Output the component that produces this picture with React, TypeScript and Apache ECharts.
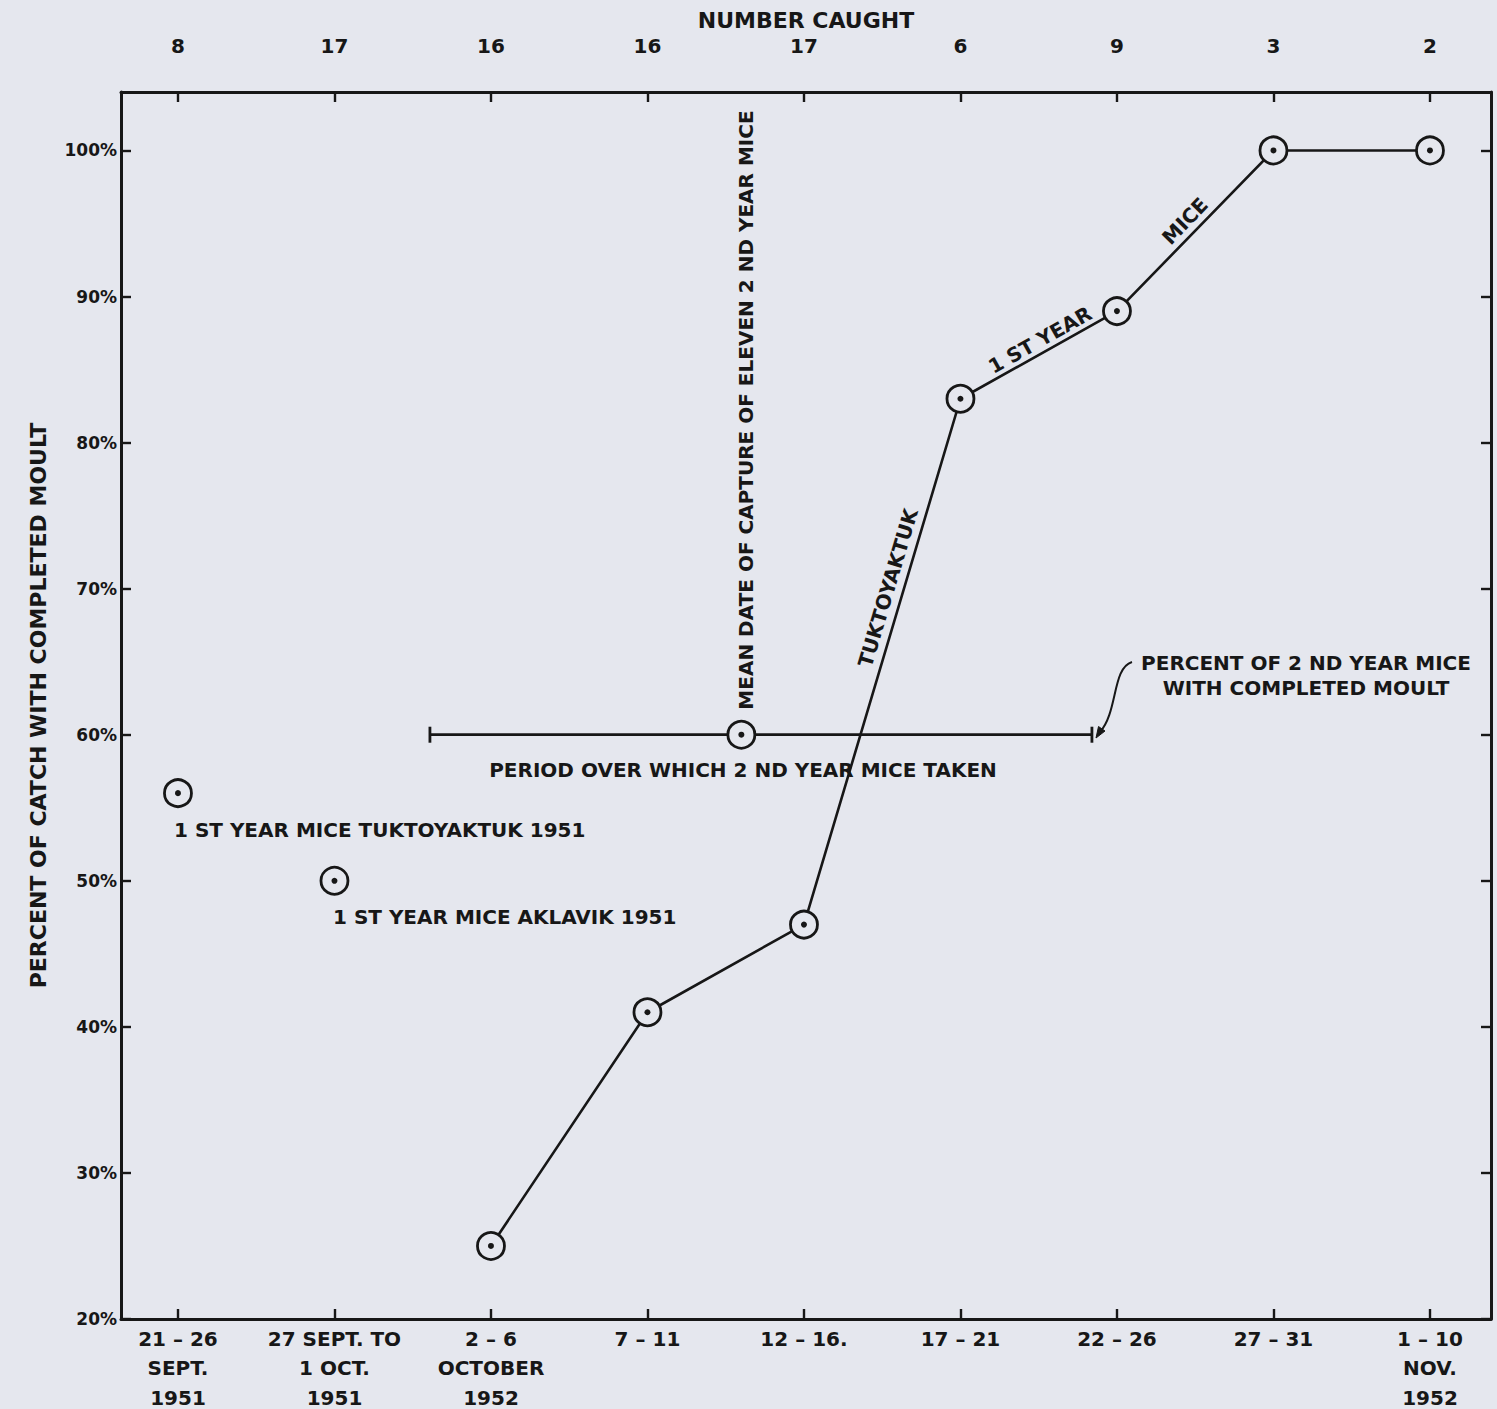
import React, { useEffect, useRef } from "react";
import * as echarts from "echarts";

// ---------- data ----------
const weekLabels = [
  "21 – 26\nSEPT.\n1951",
  "27 SEPT. TO\n1 OCT.\n1951",
  "2 – 6\nOCTOBER\n1952",
  "7 – 11",
  "12 – 16.",
  "17 – 21",
  "22 – 26",
  "27 – 31",
  "1 – 10\nNOV.\n1952",
];
const numberCaught = [8, 17, 16, 16, 17, 6, 9, 3, 2];
// 1st year mice Tuktoyaktuk 1952 (percent with completed moult)
const pctTuk1952: (number | null)[] = [null, null, 25, 41, 47, 83, 89, 100, 100];
// 1951 samples
const pctTuk1951 = 56; // index 0
const pctAklavik1951 = 50; // index 1
// 2nd year mice
const secondYearPct = 60;
const meanDateIndex = 3.6;
const periodStart = 1.61;
const periodEnd = 5.84;
const yTicks = [20, 30, 40, 50, 60, 70, 80, 90, 100];
const xTicks = [0, 1, 2, 3, 4, 5, 6, 7, 8];

const INK = "#171717";
const BG = "#e5e7ee";
const FONT = "DejaVu Sans";

export default function App() {
  const ref = useRef<HTMLDivElement>(null);
  useEffect(() => {
    if (!ref.current) return;
    const chart = echarts.init(ref.current, null, { renderer: "svg" });

    const tukData = pctTuk1952
      .map((v, i) => (v == null ? null : [i, v]))
      .filter((d) => d != null);
    const data1951 = [
      [0, pctTuk1951],
      [1, pctAklavik1951],
    ];
    const meanData = [[meanDateIndex, secondYearPct]];
    const periodData = [
      [periodStart, secondYearPct],
      [periodEnd, secondYearPct],
    ];
    const dotData = [...tukData, ...data1951, ...meanData];

    const ringStyle = {
      color: BG,
      borderColor: INK,
      borderWidth: 2.8,
      opacity: 1,
    };

    const xCommon = {
      type: "value",
      min: -0.364,
      max: 8.39,
      splitLine: { show: false },
      axisLine: { show: true, onZero: false, lineStyle: { color: INK, width: 3 } },
      axisTick: {
        show: true,
        inside: true,
        length: 10,
        customValues: xTicks,
        lineStyle: { color: INK, width: 2.4 },
      },
    };
    const yCommon = {
      type: "value",
      min: 20,
      max: 104,
      splitLine: { show: false },
      axisLine: { show: true, onZero: false, lineStyle: { color: INK, width: 3 } },
      axisTick: {
        show: true,
        inside: true,
        length: 10,
        customValues: yTicks,
        lineStyle: { color: INK, width: 2.4 },
      },
    };

    const txt = (text: string, x: number, y: number, opts: any = {}) => ({
      type: "text",
      x,
      y,
      rotation: opts.rotation || 0,
      z: 10,
      style: {
        text,
        fill: INK,
        fontSize: opts.fontSize || 20,
        fontWeight: "bold",
        fontFamily: FONT,
        align: opts.align || "center",
        verticalAlign: "middle",
        lineHeight: opts.lineHeight || 25,
      },
    });

    chart.setOption({
      animation: false,
      backgroundColor: BG,
      textStyle: { fontFamily: FONT, color: INK },
      grid: {
        left: 121,
        top: 92,
        right: 6,
        bottom: 90,
        containLabel: false,
        outerBoundsMode: "none",
      },
      xAxis: [
        {
          ...xCommon,
          position: "bottom",
          axisLabel: {
            customValues: xTicks,
            color: INK,
            fontFamily: FONT,
            fontWeight: "bold",
            fontSize: 20,
            lineHeight: 29.5,
            margin: 5,
            formatter: (v: number) => weekLabels[Math.round(v)],
          },
        },
        {
          ...xCommon,
          position: "top",
          name: "NUMBER CAUGHT",
          nameLocation: "middle",
          nameGap: 56,
          nameTextStyle: {
            color: INK,
            fontFamily: FONT,
            fontWeight: "bold",
            fontSize: 22,
          },
          axisLabel: {
            customValues: xTicks,
            color: INK,
            fontFamily: FONT,
            fontWeight: "bold",
            fontSize: 20,
            margin: 36,
            formatter: (v: number) => String(numberCaught[Math.round(v)]),
          },
        },
      ],
      yAxis: [
        {
          ...yCommon,
          position: "left",
          name: "PERCENT OF CATCH WITH COMPLETED MOULT",
          nameLocation: "middle",
          nameGap: 72,
          nameRotate: 90,
          nameTextStyle: {
            color: INK,
            fontFamily: FONT,
            fontWeight: "bold",
            fontSize: 22,
          },
          axisLabel: {
            customValues: yTicks,
            color: INK,
            fontFamily: FONT,
            fontWeight: "bold",
            fontSize: 17,
            margin: 4,
            formatter: (v: number) => `${v}%`,
          },
        },
        {
          ...yCommon,
          position: "right",
          axisLabel: { show: false },
        },
      ],
      series: [
        {
          name: "1st year mice Tuktoyaktuk 1952",
          type: "line",
          data: tukData,
          symbol: "circle",
          symbolSize: 27,
          itemStyle: ringStyle,
          lineStyle: { color: INK, width: 2.6 },
          z: 3,
        },
        {
          name: "1st year mice 1951",
          type: "scatter",
          data: data1951,
          symbol: "circle",
          symbolSize: 27,
          itemStyle: ringStyle,
          z: 3,
        },
        {
          name: "Period over which 2nd year mice taken",
          type: "line",
          data: periodData,
          symbol: "rect",
          symbolSize: [2.8, 16],
          itemStyle: { color: INK },
          lineStyle: { color: INK, width: 2.8 },
          z: 2,
        },
        {
          name: "Mean date 2nd year mice",
          type: "scatter",
          data: meanData,
          symbol: "circle",
          symbolSize: 27,
          itemStyle: ringStyle,
          z: 4,
        },
        {
          name: "dots",
          type: "scatter",
          data: dotData,
          symbol: "circle",
          symbolSize: 6,
          itemStyle: { color: INK, opacity: 1 },
          silent: true,
          z: 5,
        },
      ],
      graphic: [
        txt("MEAN DATE OF CAPTURE OF ELEVEN 2 ND YEAR MICE", 746, 410, {
          rotation: Math.PI / 2,
        }),
        txt("TUKTOYAKTUK", 888, 588, { rotation: 1.281 }),
        txt("1 ST YEAR", 1040, 340, { rotation: 0.513 }),
        txt("MICE", 1185, 221, { rotation: 0.805 }),
        txt("PERIOD OVER WHICH 2 ND YEAR MICE TAKEN", 743, 770),
        txt("1 ST YEAR MICE TUKTOYAKTUK 1951", 174, 830, { align: "left" }),
        txt("1 ST YEAR MICE AKLAVIK 1951", 333, 917, { align: "left" }),
        txt("PERCENT OF 2 ND YEAR MICE\nWITH COMPLETED MOULT", 1306, 675, {
          lineHeight: 25,
        }),
        {
          type: "bezierCurve",
          z: 10,
          shape: {
            x1: 1132,
            y1: 662,
            cpx1: 1112,
            cpy1: 668,
            cpx2: 1118,
            cpy2: 712,
            x2: 1100,
            y2: 732,
          },
          style: { stroke: INK, lineWidth: 2, fill: "none" },
        },
        {
          type: "polygon",
          z: 10,
          shape: {
            points: [
              [1096, 738],
              [1105, 731],
              [1098.5, 726.5],
            ],
          },
          style: { fill: INK, stroke: INK, lineWidth: 1 },
        },
      ],
    });
    return () => chart.dispose();
  }, []);

  return (
    <div
      ref={ref}
      style={{
        position: "absolute",
        left: 0,
        top: 0,
        width: 1497,
        height: 1409,
        background: BG,
      }}
    />
  );
}
